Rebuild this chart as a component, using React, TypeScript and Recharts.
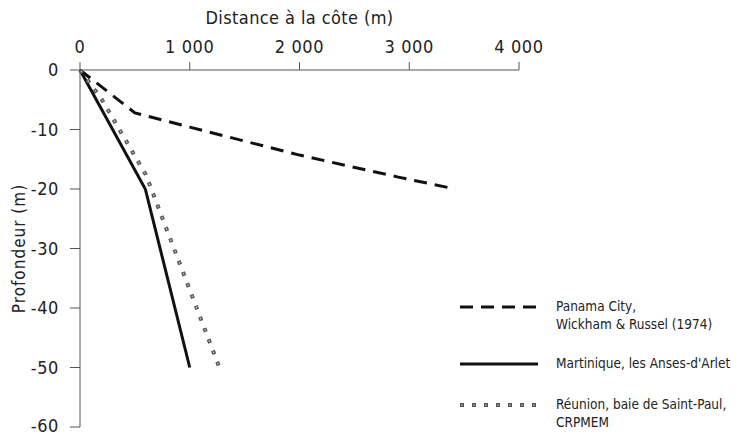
import React from "react";
import { LineChart, Line, XAxis, YAxis } from "recharts";

const xTicks = [0, 1000, 2000, 3000, 4000];
const yTicks = [0, -10, -20, -30, -40, -50, -60];

const panama = [
  { x: 0, y: 0 },
  { x: 500, y: -7.2 },
  { x: 1000, y: -9.6 },
  { x: 2000, y: -14.3 },
  { x: 2900, y: -18 },
  { x: 3420, y: -20 },
];
const martinique = [
  { x: 0, y: 0 },
  { x: 595, y: -20 },
  { x: 1000, y: -50 },
];
const reunion = [
  { x: 0, y: 0 },
  { x: 200, y: -5 },
  { x: 600, y: -17.6 },
  { x: 1270, y: -50 },
];

const seriesNames = [
  ["Panama City,", "Wickham & Russel (1974)"],
  ["Martinique, les Anses-d'Arlet"],
  ["Réunion, baie de Saint-Paul,", "CRPMEM"],
];

const FONT = "'DejaVu Sans Condensed', 'Liberation Sans', sans-serif";
const axisColor = "#555";

const fmt = (v: number) => (v >= 1000 ? `${Math.floor(v / 1000)} ${String(v % 1000).padStart(3, "0")}` : String(v));

const XLabel = (props: any) => {
  const vb = props.viewBox || {};
  return (
    <text x={vb.x + vb.width / 2} y={16} textAnchor="middle" fontFamily={FONT} fontSize={18} letterSpacing={0.4} fill="#222">
      Distance à la côte (m)
    </text>
  );
};

const YLabel = (props: any) => {
  const vb = props.viewBox || {};
  const cx = 11;
  const cy = vb.y + vb.height / 2;
  return (
    <text x={cx} y={cy} transform={`rotate(-90 ${cx} ${cy})`} textAnchor="middle" dominantBaseline="central" fontFamily={FONT} fontSize={17} letterSpacing={1} fill="#222">
      Profondeur (m)
    </text>
  );
};

const legendText: React.CSSProperties = {
  position: "absolute",
  fontFamily: FONT,
  fontSize: 13.5,
  color: "#222",
  lineHeight: "18px",
  whiteSpace: "nowrap",
};

export default function App() {
  return (
    <div style={{ position: "relative", width: 745, height: 428 }}>
      <LineChart width={745} height={428} data={panama} margin={{ top: 32, right: 234, bottom: 9, left: 0 }}>
        <XAxis
          type="number"
          dataKey="x"
          orientation="top"
          domain={[0, 4000]}
          ticks={xTicks}
          tickFormatter={fmt}
          height={30}
          tickSize={8}
          tickMargin={9}
          stroke={axisColor}
          tick={{ fontFamily: FONT, fontSize: 18, letterSpacing: 0.6, fill: "#222" }}
          label={<XLabel />}
        />
        <YAxis
          type="number"
          dataKey="y"
          domain={[-60, 0]}
          ticks={yTicks}
          width={72}
          tickSize={10}
          tickMargin={11}
          stroke={axisColor}
          tick={{ fontFamily: FONT, fontSize: 18, letterSpacing: 0.6, fill: "#222" }}
          label={<YLabel />}
        />
        <Line data={panama} dataKey="y" type="linear" stroke="#111" strokeWidth={3} strokeDasharray="13 8" dot={false} isAnimationActive={false} />
        <Line data={martinique} dataKey="y" type="linear" stroke="#111" strokeWidth={3} dot={false} isAnimationActive={false} />
        <Line data={reunion} dataKey="y" type="linear" stroke="#555" strokeWidth={4} strokeDasharray="4 8" dot={false} isAnimationActive={false} />
        <Line data={reunion} dataKey="y" type="linear" stroke="#ddd" strokeWidth={1.2} strokeDasharray="1.5 10.5" strokeDashoffset={-1.2} dot={false} isAnimationActive={false} />
      </LineChart>
      <svg style={{ position: "absolute", left: 450, top: 290 }} width={84} height={110}>
        <line x1={2} y1={9} x2={80} y2={9} stroke="#111" strokeWidth={3} strokeDasharray="13 8" />
        <line x1={2} y1={66} x2={80} y2={66} stroke="#111" strokeWidth={3} />
        <line x1={2} y1={107} x2={80} y2={107} stroke="#555" strokeWidth={4} strokeDasharray="4 8" />
        <line x1={2} y1={107} x2={80} y2={107} stroke="#ddd" strokeWidth={1.2} strokeDasharray="1.5 10.5" strokeDashoffset={-1.2} />
      </svg>
      <div style={{ ...legendText, left: 548, top: 289 }}>
        {seriesNames[0][0]}
        <br />
        {seriesNames[0][1]}
      </div>
      <div style={{ ...legendText, left: 548, top: 346 }}>{seriesNames[1][0]}</div>
      <div style={{ ...legendText, left: 548, top: 387 }}>
        {seriesNames[2][0]}
        <br />
        {seriesNames[2][1]}
      </div>
    </div>
  );
}
